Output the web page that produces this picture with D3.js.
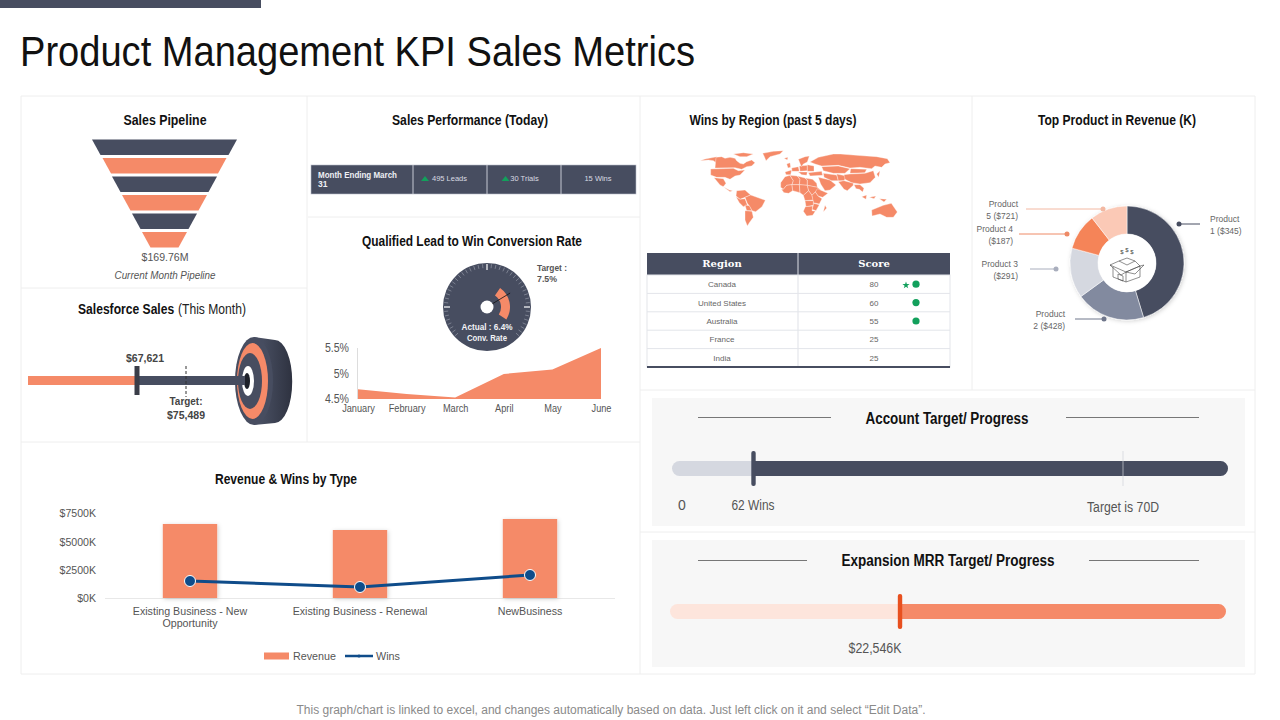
<!DOCTYPE html>
<html lang="en">
  <head>
    <meta charset="UTF-8" />
    <title>Product Management KPI Sales Metrics</title>
    <script src="https://d3js.org/d3.v7.min.js"></script>
    <style>
      body {
        margin: 0;
        background: #fff;
      }
      svg {
        display: block;
      }
      text {
        font-family: 'Liberation Sans', Arial, sans-serif;
      }
      .domain {
        display: none;
      }
    </style>
  </head>
  <body>
    <svg width="1280" height="720"></svg>
    <script>
      // Chart values
      const funnelStages = [145, 124, 105, 85, 65, 45];
      const salesValue = 67621;
      const salesTarget = 75489;
      const perfCells = ['495 Leads', '30 Trials', '15 Wins'];
      const perfArrows = [true, true, false];
      const gaugeActual = 6.4;
      const gaugeBand = [5.6, 8.5];
      const months = ['January', 'February', 'March', 'April', 'May', 'June'];
      const convRate = [4.69, 4.6, 4.53, 4.99, 5.08, 5.5];
      const rateTicks = [4.5, 5, 5.5];
      const rateLabels = ['4.5%', '5%', '5.5%'];
      const regions = ['Canada', 'United States', 'Australia', 'France', 'India'];
      const regionScores = [80, 60, 55, 25, 25];
      const regionDots = [true, true, true, false, false];
      const productShares = [45.3, 19.7, 14.2, 10.3, 10.5];
      const productLabels = [
        ['Product', '1 ($345)'],
        ['Product', '2 ($428)'],
        ['Product 3', '($291)'],
        ['Product 4', '($187)'],
        ['Product', '5 ($721)'],
      ];
      const revenueTypes = ['Existing Business - New|Opportunity', 'Existing Business - Renewal', 'NewBusiness'];
      const revenue = [6530, 6000, 6970];
      const wins = [1500, 970, 2030];
      const revenueTicks = [0, 2500, 5000, 7500];
      const accountWins = 62;
      const accountTarget = 70;
      const mrrValue = 22546;
      const mrrMax = 54500;

      // Rough land outlines, traced on a 660 x 285 grid over the map area
      const landShapes = [
        // north america
        [[30, 62], [45, 57], [72, 52], [80, 50], [78, 68], [70, 62], [55, 60]],
        [[130, 42], [160, 38], [190, 42], [170, 50], [150, 50]],
        [[78, 52], [95, 50], [105, 55], [120, 52], [135, 55], [140, 62], [150, 70], [160, 72], [170, 65], [185, 60], [195, 68], [185, 78], [170, 80], [155, 88], [135, 83], [75, 84]],
        [[62, 87], [130, 85], [145, 92], [165, 90], [150, 105], [135, 108], [120, 118], [105, 112], [80, 112], [62, 105]],
        [[72, 113], [100, 116], [108, 130], [100, 140], [90, 135]],
        [[100, 140], [118, 150], [128, 152], [120, 155]],
        [[218, 40], [250, 34], [280, 32], [270, 42], [240, 50], [228, 62], [222, 48]],
        // south america
        [[140, 152], [165, 150], [182, 165], [165, 172], [150, 178], [138, 168]],
        [[138, 170], [150, 178], [165, 176], [172, 195], [160, 200], [148, 188]],
        [[165, 172], [182, 165], [226, 181], [216, 200], [197, 215], [186, 212], [176, 195], [172, 190]],
        [[165, 195], [178, 197], [186, 212], [170, 212]],
        [[165, 212], [186, 214], [190, 232], [178, 248], [172, 258], [165, 240]],
        // africa
        [[272, 128], [285, 110], [300, 106], [310, 122], [306, 134], [290, 136], [280, 148], [272, 142]],
        [[300, 106], [322, 108], [330, 118], [328, 134], [306, 134], [310, 122]],
        [[322, 108], [345, 114], [352, 120], [352, 136], [328, 134], [330, 118]],
        [[345, 114], [368, 118], [380, 130], [382, 142], [352, 136], [352, 120]],
        [[274, 148], [280, 148], [290, 136], [306, 134], [308, 152], [296, 160], [282, 158]],
        [[306, 134], [328, 134], [330, 158], [308, 152]],
        [[328, 134], [352, 136], [356, 152], [340, 166], [330, 158]],
        [[352, 136], [382, 142], [392, 150], [378, 154], [366, 166], [356, 152]],
        [[382, 146], [414, 160], [398, 172], [384, 168], [376, 156]],
        [[340, 166], [356, 152], [366, 166], [370, 180], [345, 182]],
        [[366, 166], [376, 156], [384, 168], [396, 176], [388, 192], [370, 188]],
        [[345, 182], [370, 182], [370, 196], [348, 200]],
        [[370, 190], [388, 194], [378, 212], [366, 208], [370, 196]],
        [[346, 200], [368, 198], [366, 212], [376, 214], [368, 226], [350, 228], [340, 214]],
        [[405, 196], [410, 204], [400, 216]],
        // europe
        [[285, 96], [305, 90], [302, 104], [288, 104]],
        [[305, 84], [325, 80], [328, 94], [306, 94]],
        [[328, 78], [352, 76], [352, 92], [330, 94]],
        [[352, 74], [372, 78], [372, 94], [352, 94]],
        [[325, 96], [352, 96], [350, 106], [335, 104]],
        [[290, 72], [300, 68], [302, 82], [294, 84]],
        [[325, 58], [345, 50], [358, 48], [352, 66], [340, 72], [334, 80]],
        [[282, 55], [294, 52], [292, 60]],
        // asia
        [[360, 66], [385, 52], [430, 42], [452, 42], [500, 46], [560, 50], [592, 56], [600, 68], [585, 72], [575, 82], [555, 78], [545, 86], [510, 82], [480, 84], [445, 76], [395, 78], [375, 72]],
        [[355, 98], [395, 94], [398, 106], [360, 108]],
        [[385, 112], [420, 120], [438, 135], [420, 150], [405, 152], [392, 132]],
        [[400, 100], [440, 105], [445, 122], [425, 122], [402, 112]],
        [[440, 102], [470, 108], [462, 122], [445, 122]],
        [[395, 80], [445, 78], [480, 86], [465, 100], [430, 100], [400, 92]],
        [[482, 86], [530, 88], [525, 98], [480, 100]],
        [[462, 104], [480, 102], [525, 100], [550, 92], [556, 112], [540, 128], [510, 132], [485, 128], [465, 118]],
        [[445, 125], [462, 122], [490, 130], [490, 136], [472, 152], [462, 148], [450, 132]],
        [[492, 134], [510, 134], [522, 145], [518, 156], [508, 148], [498, 146]],
        [[560, 102], [570, 92], [566, 112]],
        [[515, 170], [530, 165], [528, 178]],
        [[538, 172], [558, 168], [552, 176]],
        [[568, 176], [590, 178], [582, 186]],
        // australia
        [[545, 210], [580, 196], [604, 190], [622, 216], [610, 232], [590, 232], [570, 222], [546, 228]],
      ];

      const dark = '#474d60';
      const orange = '#f58a68';
      const title = '#111';
      const svg = d3.select('svg');

      const defs = svg.append('defs');
      const shadow = defs.append('filter').attr('id', 'soft').attr('x', '-20%').attr('y', '-20%').attr('width', '140%').attr('height', '140%');
      shadow.append('feDropShadow').attr('dx', 1).attr('dy', 1).attr('stdDeviation', 2).attr('flood-color', '#000').attr('flood-opacity', 0.18);
      const wheelGrad = defs.append('linearGradient').attr('id', 'wheel');
      wheelGrad.append('stop').attr('offset', '0%').attr('stop-color', '#4e5569');
      wheelGrad.append('stop').attr('offset', '100%').attr('stop-color', '#2e3240');

      // The reference font is a narrow one that is not installed, so squeeze the glyphs
      function squeeze(sel, sx) {
        sel.each(function () {
          d3.select(this)
            .attr('textLength', this.getComputedTextLength() * sx)
            .attr('lengthAdjust', 'spacingAndGlyphs');
        });
      }

      function label(x, y, str, size, opts = {}) {
        const t = svg
          .append('text')
          .attr('x', x)
          .attr('y', y)
          .attr('font-size', size)
          .attr('text-anchor', opts.anchor || 'middle')
          .attr('font-weight', opts.weight || 'normal')
          .attr('font-style', opts.italic ? 'italic' : 'normal')
          .attr('fill', opts.fill || '#555')
          .text(str);
        if (opts.width) t.attr('textLength', opts.width).attr('lengthAdjust', 'spacingAndGlyphs');
        return t;
      }

      // Header band and title
      svg.append('rect').attr('width', 261).attr('height', 8).attr('fill', dark);
      label(20, 66, 'Product Management KPI Sales Metrics', 43, { anchor: 'start', fill: '#111', width: 675 });

      // Panel frame
      const frameLines = [
        [21, 96, 1255, 96], [21, 674, 1255, 674], [21, 96, 21, 674], [1255, 96, 1255, 674],
        [307, 96, 307, 442], [640, 96, 640, 674], [972, 96, 972, 390],
        [21, 288, 307, 288], [21, 442, 640, 442], [308, 217, 640, 217],
        [640, 390, 1255, 390], [640, 532, 1255, 532],
      ];
      svg
        .append('g')
        .selectAll('line')
        .data(frameLines)
        .join('line')
        .attr('x1', (d) => d[0])
        .attr('y1', (d) => d[1])
        .attr('x2', (d) => d[2])
        .attr('y2', (d) => d[3])
        .attr('stroke', '#eeeeee');

      // Sales pipeline funnel
      label(165, 125, 'Sales Pipeline', 14, { weight: 'bold', fill: title, width: 83 });
      const funnelW = d3.scaleLinear().domain([0, 145]).range([0, 145]);
      const funnelY = d3.scaleBand().domain(d3.range(funnelStages.length)).range([139.5, 247.5]).paddingInner(0.17);
      svg
        .append('g')
        .selectAll('path')
        .data(funnelStages)
        .join('path')
        .attr('d', (d, i) => {
          const top = funnelY(i);
          const bot = top + funnelY.bandwidth();
          const w = funnelW(d) / 2;
          return `M${164.5 - w},${top}L${164.5 + w},${top}L${164.5 + w - 8.5},${bot}L${164.5 - w + 8.5},${bot}Z`;
        })
        .attr('fill', (d, i) => (i % 2 ? orange : dark));
      label(165, 261, '$169.76M', 11.5, { width: 47 });
      label(165, 279, 'Current Month Pipeline', 10.5, { italic: true, width: 101 });

      // Salesforce sales bullet and target wheel
      // these two sit side by side, so they are scaled rather than given a textLength
      label(0, 0, 'Salesforce Sales', 14, { anchor: 'start', weight: 'bold', fill: title }).attr('transform', 'translate(78,314) scale(0.865,1)');
      label(0, 0, '(This Month)', 14, { anchor: 'start', fill: '#222' }).attr('transform', 'translate(178,314) scale(0.865,1)');
      const bulletX = d3.scaleLinear().domain([50120, 84960]).range([28, 245]);
      const wheel = svg.append('g');
      wheel.append('path').attr('d', 'M254,337L275,340A17,41 0 0 1 275,423L254,425Z').attr('fill', 'url(#wheel)');
      const wheelRings = [
        [254, 19, 44, dark],
        [252.5, 15.5, 38, orange],
        [250, 12, 28, dark],
        [248, 6, 15, '#fff'],
        [247, 3, 8, '#1d2029'],
      ];
      wheel
        .selectAll('ellipse')
        .data(wheelRings)
        .join('ellipse')
        .attr('cx', (d) => d[0])
        .attr('cy', 381)
        .attr('rx', (d) => d[1])
        .attr('ry', (d) => d[2])
        .attr('fill', (d) => d[3]);
      svg.append('rect').attr('x', bulletX.range()[0]).attr('y', 376).attr('width', bulletX(salesValue) - 28).attr('height', 9).attr('fill', orange);
      svg.append('rect').attr('x', bulletX(salesValue)).attr('y', 376).attr('width', bulletX.range()[1] - bulletX(salesValue)).attr('height', 9).attr('fill', dark);
      svg.append('rect').attr('x', bulletX(salesValue) - 2.5).attr('y', 366).attr('width', 5).attr('height', 29).attr('fill', '#3a3d48');
      svg.append('line').attr('x1', bulletX(salesTarget)).attr('x2', bulletX(salesTarget)).attr('y1', 366).attr('y2', 397).attr('stroke', '#333').attr('stroke-dasharray', '3 2');
      label(145, 362, '$' + d3.format(',')(salesValue), 11.5, { weight: 'bold', fill: '#444', width: 38 });
      label(186, 405, 'Target:', 11, { weight: 'bold', fill: '#444', width: 33 });
      label(186, 419, '$' + d3.format(',')(salesTarget), 11, { weight: 'bold', fill: '#444', width: 38 });

      // Sales performance strip
      label(470, 125, 'Sales Performance (Today)', 14, { weight: 'bold', fill: title, width: 156 });
      svg.append('rect').attr('x', 311).attr('y', 165).attr('width', 325).attr('height', 29).attr('fill', dark).attr('stroke', '#b9bdc9').attr('stroke-width', 0.6);
      svg.append('g').selectAll('line').data([413, 487, 561]).join('line')
        .attr('x1', (d) => d).attr('x2', (d) => d).attr('y1', 165).attr('y2', 194)
        .attr('stroke', '#c6c9d3');
      label(318, 178, 'Month Ending March', 8.5, { anchor: 'start', weight: 'bold', fill: '#eef0f4', width: 79 });
      label(318, 187, '31', 8.5, { anchor: 'start', weight: 'bold', fill: '#eef0f4' });
      const perfTextX = [449.5, 524.5, 598];
      const perfArrowX = [425, 505.5];
      perfCells.forEach((cell, i) => {
        label(perfTextX[i], 181, cell, 7.5, { fill: '#d9dbe2' });
        if (perfArrows[i]) {
          svg.append('path').attr('d', `M${perfArrowX[i] - 4},181l4,-5l4,5Z`).attr('fill', '#12a05c');
        }
      });

      // Conversion rate gauge
      label(472, 246, 'Qualified Lead to Win Conversion Rate', 14, { weight: 'bold', fill: title, width: 220 });
      const gaugeAngle = d3.scaleLinear().domain([0, 10]).range([-135, 168]);
      const rad = (a) => (a * Math.PI) / 180;
      const gauge = svg.append('g').attr('transform', 'translate(487,307)');
      gauge.append('circle').attr('r', 44).attr('fill', dark);
      const gaugeTicks = d3.range(-132, 133, 6);
      gauge
        .selectAll('line.tick')
        .data(gaugeTicks)
        .join('line')
        .attr('class', 'tick')
        .attr('x1', (d) => (d % 90 === 0 ? 37 : 39) * Math.sin(rad(d)))
        .attr('y1', (d) => -(d % 90 === 0 ? 37 : 39) * Math.cos(rad(d)))
        .attr('x2', (d) => 43 * Math.sin(rad(d)))
        .attr('y2', (d) => -43 * Math.cos(rad(d)))
        .attr('stroke', (d) => (d % 90 === 0 ? '#fff' : '#aeb2bf'))
        .attr('stroke-width', (d) => (d % 90 === 0 ? 1.2 : 0.5));
      gauge
        .append('path')
        .attr('d', d3.arc()({
          innerRadius: 14,
          outerRadius: 23,
          startAngle: rad(gaugeAngle(gaugeBand[0])),
          endAngle: rad(gaugeAngle(gaugeBand[1])),
        }))
        .attr('fill', orange);
      gauge
        .append('line')
        .attr('x2', 27 * Math.sin(rad(gaugeAngle(gaugeActual))))
        .attr('y2', -27 * Math.cos(rad(gaugeAngle(gaugeActual))))
        .attr('stroke', '#111')
        .attr('stroke-width', 0.8);
      gauge.append('circle').attr('r', 6.5).attr('fill', '#fff');
      label(487, 330, 'Actual : ' + gaugeActual + '%', 9.5, { weight: 'bold', fill: '#f2f3f6', width: 51 });
      label(487, 341, 'Conv. Rate', 9.5, { weight: 'bold', fill: '#f2f3f6', width: 40 });
      label(537, 271, 'Target :', 8.5, { anchor: 'start', weight: 'bold', width: 30 });
      label(537, 282, '7.5%', 8.5, { anchor: 'start', weight: 'bold', width: 20 });

      // Conversion rate area
      const rateX = d3.scalePoint().domain(months).range([358, 601]);
      const rateY = d3.scaleLinear().domain([4.5, 5.5]).range([399, 348]);
      svg
        .append('path')
        .datum(convRate)
        .attr('d', d3.area().x((d, i) => rateX(months[i])).y0(rateY(4.5)).y1((d) => rateY(d)))
        .attr('fill', orange);
      svg.append('line').attr('x1', 357.5).attr('x2', 357.5).attr('y1', 348).attr('y2', 399).attr('stroke', '#ddd');
      const rateLeft = svg
        .append('g')
        .attr('transform', 'translate(349,0)')
        .call(d3.axisLeft(rateY).tickValues(rateTicks).tickSize(0).tickPadding(0).tickFormat((d, i) => rateLabels[i]));
      rateLeft.selectAll('text').attr('font-size', 12).attr('fill', '#555').call(squeeze, 0.88);
      const rateBottom = svg
        .append('g')
        .attr('transform', 'translate(0,399)')
        .call(d3.axisBottom(rateX).tickSize(0).tickPadding(6));
      rateBottom.selectAll('text').attr('font-size', 10).attr('fill', '#555').call(squeeze, 0.92);

      // Wins by region map and table
      label(773, 125, 'Wins by Region (past 5 days)', 14, { weight: 'bold', fill: title, width: 167 });
      const mapX = d3.scaleLinear().domain([0, 660]).range([690, 910]);
      const mapY = d3.scaleLinear().domain([0, 285]).range([140, 235]);
      const landLine = d3.line().x((d) => mapX(d[0])).y((d) => mapY(d[1])).curve(d3.curveLinearClosed);
      svg
        .append('g')
        .selectAll('path')
        .data(landShapes)
        .join('path')
        .attr('d', landLine)
        .attr('fill', orange)
        .attr('stroke', '#fff')
        .attr('stroke-width', 0.35);

      const rowY = d3.scaleBand().domain(regions).range([275, 367]);
      svg.append('rect').attr('x', 647).attr('y', 253).attr('width', 303).attr('height', 22).attr('fill', dark);
      svg.append('rect').attr('x', 647).attr('y', 275).attr('width', 303).attr('height', 92).attr('fill', '#fff').attr('stroke', '#e3e5ea');
      svg.append('line').attr('x1', 798).attr('x2', 798).attr('y1', 253).attr('y2', 367).attr('stroke', '#dfe1e7');
      svg.append('line').attr('x1', 647).attr('x2', 950).attr('y1', 367).attr('y2', 367).attr('stroke', dark).attr('stroke-width', 2);
      svg.append('g').selectAll('line').data(regions.slice(1)).join('line')
        .attr('x1', 647).attr('x2', 950)
        .attr('y1', (d) => rowY(d)).attr('y2', (d) => rowY(d))
        .attr('stroke', '#e3e5ea');
      ['Region', 'Score'].forEach((h, i) => {
        label(i ? 874 : 722, 267, h, 10, { weight: 'bold', fill: '#fff' }).style('font-family', "'DejaVu Serif', serif");
      });
      regions.forEach((r, i) => {
        const cy = rowY(r) + rowY.bandwidth() / 2;
        label(722, cy + 3, r, 8, { fill: '#666' });
        label(874, cy + 3, regionScores[i], 8, { fill: '#666' });
        if (regionDots[i]) {
          svg.append('circle').attr('cx', 916).attr('cy', cy).attr('r', 3.6).attr('fill', '#12a05c');
        }
      });
      svg
        .append('path')
        .attr('d', d3.symbol(d3.symbolStar, 16)())
        .attr('transform', `translate(906,${rowY('Canada') + rowY.bandwidth() / 2 + 1})`)
        .attr('fill', '#12a05c');

      // Top product donut
      label(1117, 125, 'Top Product in Revenue (K)', 14, { weight: 'bold', fill: title, width: 158 });
      const productColors = ['#474d60', '#828a9f', '#d5d8e0', '#f58458', '#fbc9b6'];
      const donut = svg.append('g').attr('transform', 'translate(1127,263)');
      donut
        .append('g')
        .attr('filter', 'url(#soft)')
        .selectAll('path')
        .data(d3.pie().sort(null)(productShares))
        .join('path')
        .attr('d', d3.arc().innerRadius(29).outerRadius(57))
        .attr('fill', (d, i) => productColors[i])
        .attr('stroke', '#fff')
        .attr('stroke-width', 0.5);
      donut.append('circle').attr('r', 29).attr('fill', '#fff');

      // Open box icon in the donut hole
      const boxIcon = [
        'M-8,-2L0,-5L8,-2L0,2Z', 'M-8,-2L-17,2L-1,9L13,3L8,-2', 'M-14,4L-14,14L-1,19L-1,9', 'M13,3L13,14L-1,19',
        'M-17,2L-6,12L-1,9', 'M17,2L8,11L-1,9L13,3Z', 'M-9,11L-9,16L-4,18L-4,13Z',
      ];
      donut.append('g').selectAll('path').data(boxIcon).join('path')
        .attr('d', (d) => d)
        .attr('fill', 'none')
        .attr('stroke', '#444')
        .attr('stroke-width', 0.6);
      label(1122, 254, '$', 6, { fill: '#444' });
      label(1127, 252, '$', 6, { fill: '#444' });
      label(1132, 254, '$', 6, { fill: '#444' });

      // Leader lines and labels, one per product
      const leaders = [
        { x1: 1200, x2: 1179, y: 224, tx: 1210, anchor: 'start', color: '#474d60' },
        { x1: 1075, x2: 1104, y: 319, tx: 1065, anchor: 'end', color: '#6f768b' },
        { x1: 1030, x2: 1056, y: 269, tx: 1018, anchor: 'end', color: '#a9aebd' },
        { x1: 1019, x2: 1067, y: 234, tx: 1013, anchor: 'end', color: '#ee8a66' },
        { x1: 1026, x2: 1103, y: 209, tx: 1018, anchor: 'end', color: '#f3b8a2' },
      ];
      leaders.forEach((l, i) => {
        svg.append('line').attr('x1', l.x1).attr('x2', l.x2).attr('y1', l.y).attr('y2', l.y).attr('stroke', l.color);
        svg.append('circle').attr('cx', l.x2).attr('cy', l.y).attr('r', 2.5).attr('fill', l.color);
        productLabels[i].forEach((line, j) => {
          label(l.tx, l.y - 2 + j * 11.5, line, 8.5, { anchor: l.anchor, fill: '#666' });
        });
      });

      // Revenue and wins by type
      label(286, 484, 'Revenue & Wins by Type', 14, { weight: 'bold', fill: title, width: 142 });
      const revX = d3.scaleBand().domain(revenueTypes).range([105, 615]).paddingInner(0.68).paddingOuter(0.34);
      const revY = d3.scaleLinear().domain([0, 7500]).range([598, 513]);
      svg.append('line').attr('x1', 105).attr('x2', 615).attr('y1', 598.5).attr('y2', 598.5).attr('stroke', '#e8e8e8');
      svg
        .append('g')
        .attr('filter', 'url(#soft)')
        .selectAll('rect')
        .data(revenue)
        .join('rect')
        .attr('x', (d, i) => revX(revenueTypes[i]))
        .attr('y', (d) => revY(d))
        .attr('width', revX.bandwidth())
        .attr('height', (d) => revY(0) - revY(d))
        .attr('fill', orange);
      const revCenter = (i) => revX(revenueTypes[i]) + revX.bandwidth() / 2;
      svg
        .append('path')
        .datum(wins)
        .attr('d', d3.line().x((d, i) => revCenter(i)).y((d) => revY(d)))
        .attr('fill', 'none')
        .attr('stroke', '#0f4c8a')
        .attr('stroke-width', 3);
      svg
        .append('g')
        .selectAll('circle')
        .data(wins)
        .join('circle')
        .attr('cx', (d, i) => revCenter(i))
        .attr('cy', (d) => revY(d))
        .attr('r', 5.5)
        .attr('fill', '#0f4c8a')
        .attr('stroke', '#fff');
      const revLeft = svg
        .append('g')
        .attr('transform', 'translate(96,0)')
        .call(d3.axisLeft(revY).tickValues(revenueTicks).tickSize(0).tickPadding(0).tickFormat((d) => '$' + d + 'K'));
      revLeft.selectAll('text').attr('font-size', 11.5).attr('fill', '#555').call(squeeze, 0.92);
      revenueTypes.forEach((t, i) => {
        t.split('|').forEach((line, j) => {
          label(revCenter(i), 615 + j * 12, line, 11, {}).call(squeeze, 0.97);
        });
      });
      svg.append('rect').attr('x', 264).attr('y', 652.5).attr('width', 25).attr('height', 7).attr('fill', orange);
      label(293, 660, 'Revenue', 11, { anchor: 'start', width: 43 });
      svg.append('line').attr('x1', 345).attr('x2', 373).attr('y1', 656).attr('y2', 656).attr('stroke', '#0f4c8a').attr('stroke-width', 2.5);
      svg.append('circle').attr('cx', 359).attr('cy', 656).attr('r', 1.6).attr('fill', '#0f4c8a');
      label(376, 660, 'Wins', 11, { anchor: 'start', width: 24 });

      // Progress panels
      svg.append('rect').attr('x', 652).attr('y', 398).attr('width', 593).attr('height', 128).attr('fill', '#f7f7f7');
      svg.append('rect').attr('x', 652).attr('y', 540).attr('width', 593).attr('height', 127).attr('fill', '#f7f7f7');
      label(947, 424, 'Account Target/ Progress', 16, { weight: 'bold', fill: title, width: 163 });
      label(948, 566, 'Expansion MRR Target/ Progress', 16, { weight: 'bold', fill: title, width: 213 });
      const ruleLines = [
        [698, 831, 417.5], [1066, 1199, 417.5],
        [698, 807, 560.5], [1089, 1199, 560.5],
      ];
      svg.append('g').selectAll('line').data(ruleLines).join('line')
        .attr('x1', (d) => d[0]).attr('x2', (d) => d[1])
        .attr('y1', (d) => d[2]).attr('y2', (d) => d[2])
        .attr('stroke', '#777');

      function progressBar(scale, value, y, light, fill, marker) {
        const [x0, x1] = [scale.range()[0], scale.range()[scale.range().length - 1]];
        svg.append('rect').attr('x', x0).attr('y', y).attr('width', x1 - x0).attr('height', 15).attr('rx', 7.5).attr('fill', light);
        svg.append('path')
          .attr('d', `M${scale(value)},${y}H${x1 - 7.5}a7.5,7.5 0 0 1 0,15H${scale(value)}Z`)
          .attr('fill', fill);
        svg.append('rect').attr('x', scale(value) - 2.2).attr('y', y - 10).attr('width', 4.4).attr('height', 35).attr('rx', 2).attr('fill', marker);
      }

      const accountX = d3.scaleLinear().domain([0, accountWins, accountTarget, 78.4]).range([672, 753.5, 1123, 1228]);
      progressBar(accountX, accountWins, 461, '#d5d8e0', dark, dark);
      svg.append('line').attr('x1', accountX(accountTarget)).attr('x2', accountX(accountTarget)).attr('y1', 451).attr('y2', 486).attr('stroke', '#cfd1d8').attr('stroke-width', 0.7);
      label(682, 510, '0', 14, {});
      label(753, 510, accountWins + ' Wins', 14, { width: 43 });
      label(1123, 512, 'Target is ' + accountTarget + 'D', 14, { width: 72 });

      const mrrX = d3.scaleLinear().domain([0, mrrMax]).range([670, 1226]);
      progressBar(mrrX, mrrValue, 604, '#fde5dc', orange, '#e8501f');
      label(875, 653, '$' + d3.format(',')(mrrValue) + 'K', 14, { width: 53 });

      // Footer note
      label(611, 714, 'This graph/chart is linked to excel, and changes automatically based on data. Just left click on it and select “Edit Data”.', 12, { fill: '#8a8a8a' });
    </script>
  </body>
</html>
